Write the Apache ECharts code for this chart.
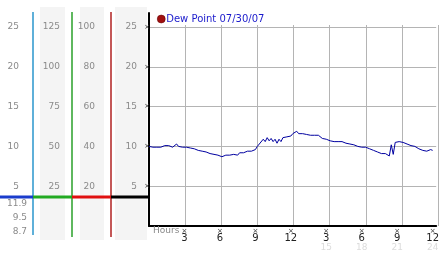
<!DOCTYPE html>
<html><head><meta charset="utf-8">
<script src="https://cdn.jsdelivr.net/npm/echarts@6/dist/echarts.min.js"></script>
<style>html,body{margin:0;padding:0;background:#fff}#c{width:442px;height:253px}</style>
</head><body><div id="c"></div>
<script>
const seriesName = 'Dew Point 07/30/07';
// dew point every 10 minutes, 00:00 .. 24:00
const dewPoint = [
  10.0, 9.9, 9.9, 9.8, 9.9, 9.9,
  9.9, 10.0, 10.1, 10.1, 10.1, 9.9,
  9.9, 10.0, 10.3, 10.0, 9.9, 9.9,
  9.9, 9.9, 9.9, 9.8, 9.8, 9.7,
  9.6, 9.5, 9.5, 9.4, 9.3, 9.3,
  9.2, 9.1, 9.0, 9.0, 8.9, 8.9,
  8.8, 8.7, 8.8, 8.9, 8.8, 8.9,
  9.1, 9.0, 9.2, 8.9, 9.2, 9.3,
  9.2, 9.3, 9.4, 9.3, 9.4, 9.3,
  9.6, 10.0, 10.3, 10.5, 10.9, 10.6,
  11.1, 10.7, 11.0, 10.6, 10.9, 10.4,
  10.9, 10.6, 11.1, 10.9, 11.2, 11.4,
  11.3, 11.6, 11.5, 11.9, 11.6, 11.8,
  11.6, 11.7, 11.5, 11.7, 11.4, 11.6,
  11.4, 11.2, 11.4, 11.2, 11.0, 11.1,
  10.9, 11.0, 10.7, 10.8, 10.6, 10.7,
  10.6, 10.5, 10.6, 10.4, 10.4, 10.3,
  10.3, 10.1, 10.2, 10.0, 10.0, 9.9,
  9.9, 9.8, 9.9, 9.7, 9.7, 9.6,
  9.5, 9.5, 9.3, 9.2, 9.1, 9.3,
  9.1, 9.3, 8.8, 10.2, 9.0, 10.5,
  10.7, 10.6, 10.5, 10.5, 10.4, 10.3,
  10.2, 10.1, 10.0, 10.0, 9.8, 9.7,
  9.6, 9.5, 9.7, 9.4, 9.5, 9.6,
  9.5
];
const samplesPerHour = 6;
const hourTicks = [3, 6, 9, 12, 15, 18, 21, 24];
const clockLabels = ['3', '6', '9', '12', '3', '6', '9', '12'];
const faintLabels = ['', '', '', '', '15', '18', '21', '24'];
const mainTicks = [25, 20, 15, 10, 5];
const colTicksA = [25, 20, 15, 10, 5];
const colTicksB = [125, 100, 75, 50, 25];
const colTicksC = [100, 80, 60, 40, 20];
const colTicksD = [25, 20, 15, 10, 5];
const summaryValues = ['11.9', '9.5', '8.7'];

const FONT = 'DejaVu Sans';
const X_MAX = 24.3;

const seriesData = dewPoint.map((v, i) => [i / samplesPerHour, v]);

function colAxis(gridIndex, ticks) {
  const step = ticks[0] - ticks[1];
  return {
    type: 'value', gridIndex, min: 0, max: ticks[0], interval: step,
    axisLine: {show: false}, axisTick: {show: false}, splitLine: {show: false},
    axisLabel: {
      margin: 1, color: '#8a8a8a', fontFamily: FONT, fontSize: 9,
      formatter: v => ticks.includes(v) ? String(v) : ''
    }
  };
}
function hiddenX(gridIndex) {
  return {type: 'value', gridIndex, min: 0, max: 1, show: false};
}

const colGrids = [
  {left: 20, top: 27, width: 13, height: 199},
  {left: 61, top: 27, width: 10, height: 199},
  {left: 96, top: 27, width: 14, height: 199},
  {left: 138, top: 27, width: 10, height: 199}
];

const chart = echarts.init(document.getElementById('c'), null, {renderer: 'canvas'});
chart.setOption({
  animation: false,
  backgroundColor: '#fff',
  textStyle: {fontFamily: FONT},
  title: {
    text: 'Hours', left: 148, top: 221,
    textStyle: {fontFamily: FONT, fontSize: 9, fontWeight: 'normal', color: '#8a8a8a'}
  },
  legend: {
    left: 152, top: 9, icon: 'circle', itemWidth: 8, itemHeight: 8,
    textStyle: {fontFamily: FONT, fontSize: 10, color: '#1a1acc', padding: [0, 0, 0, -4]},
    data: [{name: seriesName, itemStyle: {color: '#a01010', borderColor: '#600000', borderWidth: 0.5}}]
  },
  grid: [
    {left: 149, top: 27, width: 293, height: 199},   // main plot (values 0..25)
    {left: 149, top: 25, width: 289, height: 201},   // vertical grid lines (hours 0..24)
    {left: 149, top: 13, width: 293, height: 213},   // tall black value axis
    ...colGrids
  ],
  xAxis: [
    {
      type: 'value', gridIndex: 0, min: 0, max: X_MAX, interval: 3,
      axisLine: {show: true, lineStyle: {color: '#000', width: 2}},
      axisTick: {show: false}, splitLine: {show: false},
      axisLabel: {
        margin: 3, showMaxLabel: false,
        formatter: v => {
          const k = hourTicks.indexOf(v);
          if (k < 0) return '';
          let s = '{m|×}\n{a|' + clockLabels[k] + '}';
          if (faintLabels[k]) s += '\n{b|' + faintLabels[k] + '}';
          return s;
        },
        rich: {
          m: {fontFamily: FONT, fontSize: 7, lineHeight: 5, color: '#333'},
          a: {fontFamily: FONT, fontSize: 10, lineHeight: 9, color: '#222'},
          b: {fontFamily: FONT, fontSize: 9, lineHeight: 10, color: '#dcdcdc'}
        }
      }
    },
    {
      type: 'value', gridIndex: 1, min: 0, max: 24, interval: 3,
      axisLine: {show: false}, axisTick: {show: false}, axisLabel: {show: false},
      splitLine: {show: true, lineStyle: {color: '#b4b4b4', width: 1}}
    },
    hiddenX(2), hiddenX(3), hiddenX(4), hiddenX(5), hiddenX(6)
  ],
  yAxis: [
    {
      type: 'value', gridIndex: 0, min: 0, max: 25, interval: 5,
      axisLine: {show: false},
      axisTick: {show: false},
      splitLine: {show: true, lineStyle: {color: '#b4b4b4', width: 1}},
      axisLabel: {
        margin: -1, fontFamily: FONT, fontSize: 7, color: '#333',
        formatter: v => mainTicks.includes(v) ? '×' : ''
      }
    },
    {type: 'value', gridIndex: 1, min: 0, max: 1, show: false},
    {
      type: 'value', gridIndex: 2, min: 0, max: 1,
      axisLine: {show: true, lineStyle: {color: '#000', width: 2}},
      axisTick: {show: false}, axisLabel: {show: false}, splitLine: {show: false}
    },
    colAxis(3, colTicksA), colAxis(4, colTicksB), colAxis(5, colTicksC), colAxis(6, colTicksD)
  ],
  series: [{
    name: seriesName, type: 'line', xAxisIndex: 0, yAxisIndex: 0,
    data: seriesData, showSymbol: false, symbol: 'none', z: 5,
    lineStyle: {color: '#0000a0', width: 1}, itemStyle: {color: '#a01010'}
  }],
  graphic: [
    {type: 'rect', z: -10, silent: true, shape: {x: 40, y: 7, width: 25, height: 233}, style: {fill: '#f4f4f4'}},
    {type: 'rect', z: -10, silent: true, shape: {x: 80, y: 7, width: 24, height: 233}, style: {fill: '#f4f4f4'}},
    {type: 'rect', z: -10, silent: true, shape: {x: 115, y: 7, width: 32, height: 233}, style: {fill: '#f4f4f4'}},
    {type: 'line', silent: true, shape: {x1: 33, y1: 12, x2: 33, y2: 235}, style: {stroke: '#2a96cc', lineWidth: 1.5}},
    {type: 'line', silent: true, shape: {x1: 72, y1: 12, x2: 72, y2: 237}, style: {stroke: '#2aa02a', lineWidth: 1.5}},
    {type: 'line', silent: true, shape: {x1: 111, y1: 12, x2: 111, y2: 237}, style: {stroke: '#b02020', lineWidth: 1.5}},
    {type: 'line', silent: true, shape: {x1: 0, y1: 197, x2: 33, y2: 197}, style: {stroke: '#1a3ccc', lineWidth: 3}},
    {type: 'line', silent: true, shape: {x1: 33, y1: 197, x2: 72, y2: 197}, style: {stroke: '#22aa22', lineWidth: 3}},
    {type: 'line', silent: true, shape: {x1: 72, y1: 197, x2: 111, y2: 197}, style: {stroke: '#e01010', lineWidth: 3}},
    {type: 'line', silent: true, shape: {x1: 111, y1: 197, x2: 149, y2: 197}, style: {stroke: '#000', lineWidth: 3}},
    ...summaryValues.map((t, i) => ({
      type: 'text', silent: true, x: 27, y: 204 + i * 14,
      style: {text: t, align: 'right', verticalAlign: 'middle', font: '9px "DejaVu Sans"', fill: '#8a8a8a'}
    }))
  ]
});
</script>
</body></html>
